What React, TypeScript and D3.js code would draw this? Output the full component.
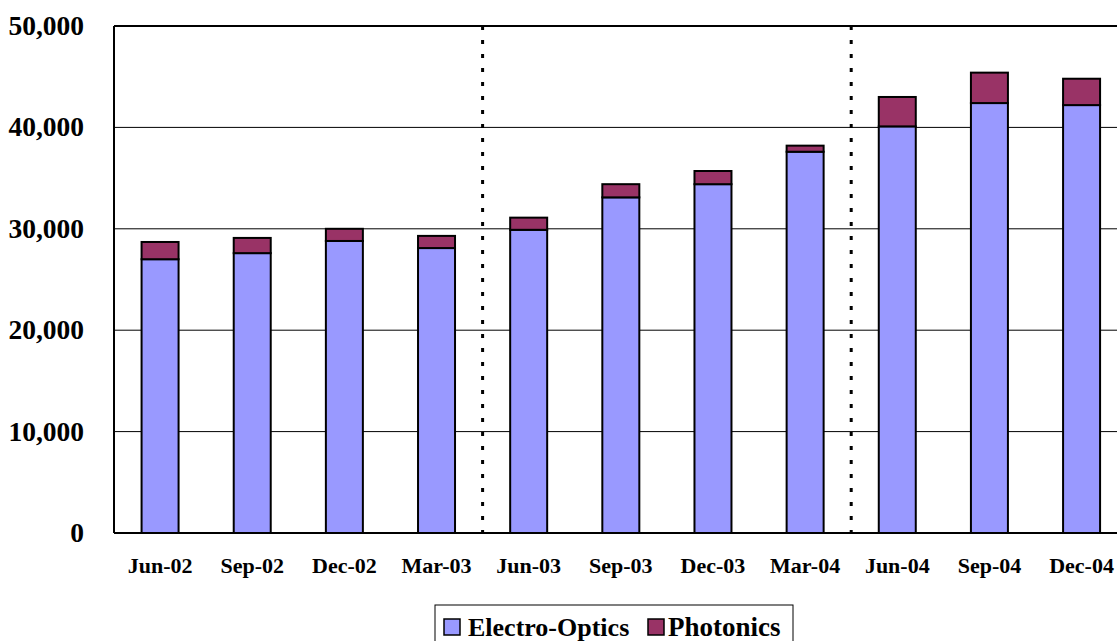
import React from "react";
import * as d3 from "d3";

const categories = ["Jun-02","Sep-02","Dec-02","Mar-03","Jun-03","Sep-03","Dec-03","Mar-04","Jun-04","Sep-04","Dec-04"];
const electroOptics = [27000,27600,28800,28100,29900,33100,34400,37600,40100,42400,42200];
const photonics = [1700,1500,1200,1200,1200,1300,1300,600,2900,3000,2600];
const yTicks = [0,10000,20000,30000,40000,50000];
const dividers = [4, 8];

export default function App() {
  const W = 1117, H = 641;
  const left = 114, top = 26, bottom = 533;
  const step = 92.15;
  const right = left + step * categories.length;
  const y = d3.scaleLinear().domain([0, 50000]).range([bottom, top]);
  const fmt = d3.format(",");
  const font = "'Liberation Serif', 'Times New Roman', serif";
  const bw = 37;
  return (
    <svg width={W} height={H} style={{ position: "absolute", left: 0, top: 0 }} fontFamily={font}>
      <rect x={0} y={0} width={W} height={H} fill="white" />
      {yTicks.filter(t => t > 0).map(t => (
        <line key={t} x1={left} x2={right} y1={y(t)} y2={y(t)} stroke="black" strokeWidth={1} />
      ))}
      {dividers.map(d => {
        const xx = left + step * d;
        return <line key={d} x1={xx} x2={xx} y1={top} y2={bottom} stroke="black" strokeWidth={3} strokeDasharray="4 10" />;
      })}
      {categories.map((c, i) => {
        const cx = left + step * (i + 0.5);
        const e = electroOptics[i], p = photonics[i];
        return (
          <g key={c}>
            <rect x={cx - bw / 2} y={y(e)} width={bw} height={y(0) - y(e)} fill="#9999FF" stroke="black" strokeWidth={2} />
            <rect x={cx - bw / 2} y={y(e + p)} width={bw} height={y(e) - y(e + p)} fill="#993366" stroke="black" strokeWidth={2} />
            <text x={cx} y={573} textAnchor="middle" fontSize={22} fontWeight="bold">{c}</text>
          </g>
        );
      })}
      <line x1={left} x2={left} y1={top} y2={bottom} stroke="black" strokeWidth={2} />
      <line x1={left} x2={right} y1={top} y2={top} stroke="black" strokeWidth={2} />
      <line x1={left} x2={right} y1={bottom} y2={bottom} stroke="black" strokeWidth={2} />
      {yTicks.map(t => (
        <text key={t} x={84} y={y(t) + 9} textAnchor="end" fontSize={27.5} fontWeight="bold">{fmt(t)}</text>
      ))}
      <g>
        <rect x={435} y={605} width={358} height={45} fill="white" stroke="black" strokeWidth={1} />
        <rect x={444} y={619} width={16} height={16} fill="#9999FF" stroke="black" strokeWidth={1.5} />
        <text x={468} y={636} fontSize={26} fontWeight="bold">Electro-Optics</text>
        <rect x={648} y={619} width={16} height={16} fill="#993366" stroke="black" strokeWidth={1.5} />
        <text x={668} y={636} fontSize={27} fontWeight="bold">Photonics</text>
      </g>
    </svg>
  );
}
